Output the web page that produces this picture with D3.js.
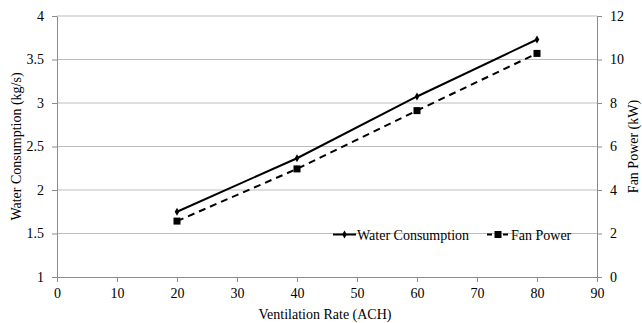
<!DOCTYPE html>
<html>
<head>
<meta charset="utf-8">
<script src="https://cdn.jsdelivr.net/npm/d3@7"></script>
<style>
  html, body { margin: 0; padding: 0; background: #fff; }
</style>
</head>
<body>
<svg id="chart" width="642" height="323"></svg>
<script>
// Ventilation rate (ACH)
const ventilation = [20, 40, 60, 80];
// Water consumption (kg/s), left axis
const waterConsumption = [1.75, 2.365, 3.075, 3.73];
// Fan power (kW), right axis
const fanPower = [2.57, 4.97, 7.65, 10.28];

const xTicks = [0, 10, 20, 30, 40, 50, 60, 70, 80, 90];
const yLeftTicks = [1, 1.5, 2, 2.5, 3, 3.5, 4];
const yRightTicks = [0, 2, 4, 6, 8, 10, 12];

const FONT = "'Liberation Serif', 'Times New Roman', Times, serif";

const svg = d3.select("#chart");
const margin = { left: 57, right: 45, top: 16, bottom: 46 };
const W = 642, H = 323;

const x = d3.scaleLinear().domain([0, 90]).range([margin.left, W - margin.right]);
const yL = d3.scaleLinear().domain([1, 4]).range([H - margin.bottom, margin.top]);
const yR = d3.scaleLinear().domain([0, 12]).range([H - margin.bottom, margin.top]);

const gridColor = "#bdbdbd";
const axisColor = "#8c8c8c";

function label(sel) {
  return sel.style("font-family", FONT).style("font-size", "14px").style("fill", "#000");
}

// horizontal gridlines
svg.append("g").selectAll("line").data(yLeftTicks.slice(1)).join("line")
  .attr("x1", x(0)).attr("x2", x(90))
  .attr("y1", d => yL(d)).attr("y2", d => yL(d))
  .attr("stroke", gridColor).attr("stroke-width", 1);

function styleAxis(g) {
  g.attr("font-family", null).attr("font-size", null);
  g.select(".domain").attr("stroke", axisColor);
  g.selectAll(".tick line").attr("stroke", axisColor);
  label(g.selectAll(".tick text"));
}

svg.append("g").attr("transform", `translate(0,${yL(1)})`)
  .call(d3.axisBottom(x).tickValues(xTicks).tickSize(5).tickSizeOuter(0).tickPadding(6))
  .call(styleAxis);

svg.append("g").attr("transform", `translate(${x(0)},0)`)
  .call(d3.axisLeft(yL).tickValues(yLeftTicks).tickFormat(d3.format("")).tickSize(5).tickSizeOuter(0).tickPadding(8))
  .call(styleAxis);

svg.append("g").attr("transform", `translate(${x(90)},0)`)
  .call(d3.axisRight(yR).tickValues(yRightTicks).tickSize(5).tickSizeOuter(0).tickPadding(8))
  .call(styleAxis);

// axis titles
label(svg.append("text").attr("x", (x(0) + x(90)) / 2 - 2).attr("y", 319)
  .attr("text-anchor", "middle").text("Ventilation Rate (ACH)"));
label(svg.append("text").attr("transform", `translate(21,${(yL(1) + yL(4)) / 2}) rotate(-90)`)
  .attr("text-anchor", "middle").text("Water Consumption (kg/s)"));
label(svg.append("text").attr("transform", `translate(638,${(yL(1) + yL(4)) / 2}) rotate(-90)`)
  .attr("text-anchor", "middle").text("Fan Power (kW)"));

// series
const waterPts = ventilation.map((v, i) => [x(v), yL(waterConsumption[i])]);
const fanPts = ventilation.map((v, i) => [x(v), yR(fanPower[i])]);
const line = d3.line();

svg.append("path").attr("d", line(waterPts)).attr("fill", "none")
  .attr("stroke", "#000").attr("stroke-width", 2);
svg.append("path").attr("d", line(fanPts)).attr("fill", "none")
  .attr("stroke", "#000").attr("stroke-width", 2).attr("stroke-dasharray", "7,5");

const diamond = d3.symbol().type(d3.symbolDiamond).size(18);
svg.append("g").selectAll("path").data(waterPts).join("path")
  .attr("transform", d => `translate(${d[0]},${d[1]})`).attr("d", diamond()).attr("fill", "#000");
svg.append("g").selectAll("rect").data(fanPts).join("rect")
  .attr("x", d => d[0] - 3.5).attr("y", d => d[1] - 3.5)
  .attr("width", 7).attr("height", 7).attr("fill", "#000");

// legend
const legY = 234.5;
const lg = svg.append("g");
lg.append("line").attr("x1", 333).attr("x2", 356).attr("y1", legY).attr("y2", legY)
  .attr("stroke", "#000").attr("stroke-width", 2);
lg.append("path").attr("transform", `translate(344.5,${legY})`).attr("d", diamond()).attr("fill", "#000");
label(lg.append("text").attr("x", 357).attr("y", legY + 5).text("Water Consumption"));
lg.append("line").attr("x1", 487).attr("x2", 509).attr("y1", legY).attr("y2", legY)
  .attr("stroke", "#000").attr("stroke-width", 2).attr("stroke-dasharray", "5,3");
lg.append("rect").attr("x", 494.5).attr("y", legY - 3.5).attr("width", 7).attr("height", 7).attr("fill", "#000");
label(lg.append("text").attr("x", 511).attr("y", legY + 5).text("Fan Power"));
</script>
</body>
</html>
